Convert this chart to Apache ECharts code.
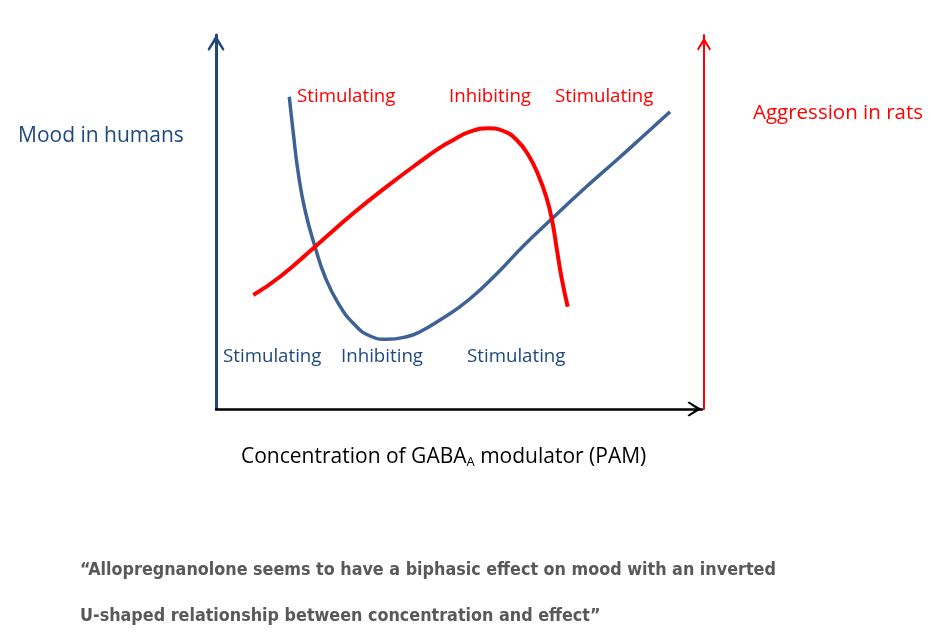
<!DOCTYPE html>
<html>
<head>
<meta charset="utf-8">
<script src="https://cdn.jsdelivr.net/npm/echarts@6/dist/echarts.min.js"></script>
<style>
html,body{margin:0;padding:0;background:#fff;}
#chart{width:943px;height:636px;}
</style>
</head>
<body>
<div id="chart"></div>
<script>
// Concentration (arbitrary units, 0-100) and response (arbitrary units, 0-100)
var moodX = [15.08, 15.91, 16.93, 18.31, 20.37, 22.43, 25.16, 28.25, 31.69, 35.12, 39.24, 41.98, 46.09, 50.21, 54.32, 58.44, 63.23, 68.72, 75.58, 82.45, 88.27, 93.42];
var moodY = [83.50, 73.72, 63.02, 53.21, 43.40, 35.37, 28.26, 22.91, 19.52, 18.64, 19.33, 20.67, 23.80, 27.35, 31.82, 37.03, 43.58, 50.40, 58.69, 66.58, 73.40, 79.49];
var aggrX = [7.67, 13.17, 20.37, 28.25, 35.12, 41.98, 46.09, 48.83, 52.26, 56.03, 59.12, 61.87, 64.26, 66.32, 68.04, 69.20, 70.10, 71.13, 72.37];
var aggrY = [30.48, 35.37, 43.40, 52.33, 59.44, 66.12, 69.87, 71.93, 74.14, 75.05, 74.33, 71.93, 67.91, 62.57, 56.34, 50.08, 42.97, 34.95, 27.35];
var redLabels = ['Stimulating', 'Inhibiting', 'Stimulating'];
var blueLabels = ['Stimulating', 'Inhibiting', 'Stimulating'];
var leftAxisName = 'Mood in humans';
var rightAxisName = 'Aggression in rats';
var quoteLines = ['\u201CAllopregnanolone seems to have a biphasic effect on mood with an inverted',
                  'U-shaped relationship between concentration and effect\u201D'];

function pairs(xs, ys) { return xs.map(function (x, i) { return [x, ys[i]]; }); }

var chevron = 'path://M50,0 L100,84 L91,94 L50,32 L9,94 L0,84 Z';
var FONT = 'Open Sans';
var LBL = '18.7px "' + FONT + '"';

var chart = echarts.init(document.getElementById('chart'), null, {renderer: 'canvas'});
chart.setOption({
  backgroundColor: '#ffffff',
  animation: false,
  grid: {left: 216, right: 241, top: 35, bottom: 227},
  xAxis: {
    type: 'value', min: 0, max: 100,
    axisLine: {show: true, lineStyle: {color: '#000', width: 2.5},
      symbol: ['none', chevron], symbolSize: [15, 15], symbolOffset: [0, -7.5]},
    axisTick: {show: false}, axisLabel: {show: false}, splitLine: {show: false}
  },
  yAxis: [{
    type: 'value', min: 0, max: 100, position: 'left',
    axisLine: {show: true, lineStyle: {color: '#1f497d', width: 3},
      symbol: ['none', chevron], symbolSize: [18, 16], symbolOffset: [0, -8]},
    axisTick: {show: false}, axisLabel: {show: false}, splitLine: {show: false}
  }, {
    type: 'value', min: 0, max: 100, position: 'right', offset: 2,
    axisLine: {show: true, lineStyle: {color: '#ff0000', width: 2},
      symbol: ['none', chevron], symbolSize: [18, 13], symbolOffset: [0, -9]},
    axisTick: {show: false}, axisLabel: {show: false}, splitLine: {show: false}
  }],
  series: [{
    type: 'line', data: pairs(moodX, moodY), smooth: 0.5, showSymbol: false,
    lineStyle: {color: '#3f6294', width: 3.5}, z: 3
  }, {
    type: 'line', data: pairs(aggrX, aggrY), smooth: 0.5, showSymbol: false,
    lineStyle: {color: '#ff0000', width: 4}, z: 4
  }],
  graphic: [
    {type: 'text', left: 297, top: 87, style: {text: redLabels[0], fill: '#ff0000', font: LBL}},
    {type: 'text', left: 449, top: 87, style: {text: redLabels[1], fill: '#ff0000', font: LBL}},
    {type: 'text', left: 555, top: 87, style: {text: redLabels[2], fill: '#ff0000', font: LBL}},
    {type: 'text', left: 223, top: 347, style: {text: blueLabels[0], fill: '#1f497d', font: LBL}},
    {type: 'text', left: 341, top: 347, style: {text: blueLabels[1], fill: '#1f497d', font: LBL}},
    {type: 'text', left: 467, top: 347, style: {text: blueLabels[2], fill: '#1f497d', font: LBL}},
    {type: 'text', left: 18, top: 126, style: {text: leftAxisName, fill: '#1f497d', font: '21px "' + FONT + '"'}},
    {type: 'text', left: 753, top: 103, style: {text: rightAxisName, fill: '#ff0000', font: '20.5px "' + FONT + '"'}},
    {type: 'text', left: 241, top: 447, style: {
      text: '{a|Concentration of GABA}{s|A}{a| modulator (PAM)}',
      rich: {a: {fill: '#000', font: '21px "' + FONT + '"'}, s: {fill: '#000', font: '13px "' + FONT + '"', padding: [10, 0, 0, 0]}}
    }},
    {type: 'text', left: 80, top: 561, style: {text: quoteLines[0], fill: '#595959', font: 'bold 17.8px "DejaVu Sans Condensed"'}},
    {type: 'text', left: 80, top: 607, style: {text: quoteLines[1], fill: '#595959', font: 'bold 17.8px "DejaVu Sans Condensed"'}}
  ]
});
</script>
</body>
</html>
